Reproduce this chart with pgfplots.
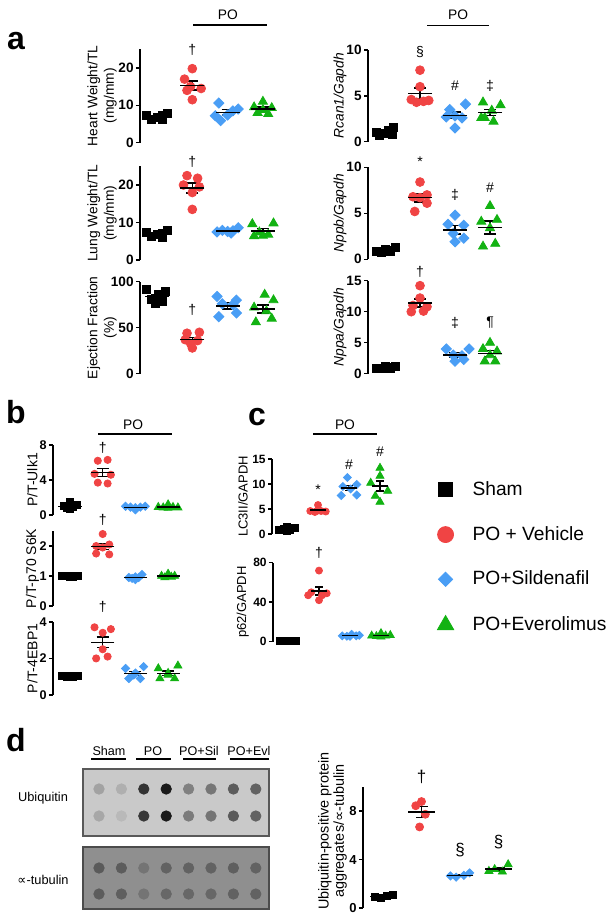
\documentclass[border=0pt]{standalone}
\usepackage{pgfplots}
\pgfplotsset{compat=1.18}
\usepackage{fontspec}
\setmainfont{Liberation Sans}
\newfontfamily\djv{DejaVu Sans}
\definecolor{cR}{RGB}{240,68,68}
\definecolor{cB}{RGB}{74,158,245}
\definecolor{cG}{RGB}{18,178,18}
\newcommand\fs[1]{\fontsize{#1}{#1}\selectfont}

\pgfplotsset{
  dp/.style={clip=false, anchor=south west, axis x line=none, axis y line*=left,
    axis line style={line width=0.75pt}, ymin=0, xtick=\empty,
    tick align=outside, major tick length=2pt, major tick style={line width=0.75pt, black},
    /pgf/number format/assume math mode=true,
    yticklabel style={font=\bfseries\fs{6.8}, inner sep=1pt},
    ylabel style={font=\fontsize{6.9}{8.2}\selectfont, align=center, inner sep=1pt}},
  ylab/.style={ylabel style={at={(axis description cs:#1,0.5)}, anchor=center}},
  sham/.style={only marks, mark=square*, black, mark size=#1},
  veh/.style={only marks, mark=*, cR, mark size=#1},
  sil/.style={only marks, mark=square*, cB, mark size=#1, mark options={rotate=45}},
  evl/.style={only marks, mark=triangle*, cG, mark size=#1},
  mse/.style={only marks, mark=-, black, mark size=#1, mark options={line width=0.7pt},
    error bars/y dir=both, error bars/y explicit,
    error bars/error bar style={line width=0.7pt, black},
    error bars/error mark options={rotate=90, line width=0.7pt, mark size=3pt, black}},
  capsmall/.style={error bars/error mark options={rotate=90, line width=0.7pt, mark size=2pt, black}},
}
\tikzset{sym/.style={font=\fs{7}}}

\begin{document}
\begin{tikzpicture}
\useasboundingbox (0,0) rectangle (308pt,-461.5pt);

% panel letters
\node[font=\bfseries\fs{16}] at (8pt,-20.5pt) {a};
\node[font=\bfseries\fs{16}] at (8pt,-206pt) {b};
\node[font=\bfseries\fs{16}] at (128.5pt,-208.5pt) {c};
\node[font=\bfseries\fs{16}] at (8pt,-370pt) {d};

% ---------- a, left column ----------
\begin{axis}[dp, at={(70pt,-71.35pt)}, x=17.65pt, y=1.87pt, xmin=0.518, xmax=4.5, ymax=25,
  ytick={0,10,20}, ylabel={Heart Weight/TL\\(mg/mm)}, ylab=-0.27]
\addplot[sham=2pt] coordinates {(0.7,7.2) (0.85,6.3) (1.0,6.9) (1.15,6.1) (1.3,7.8) (1.15,7.3)};
\addplot[veh=2.2pt] coordinates {(2.0,19.8) (1.78,17.0) (1.95,15.0) (2.25,14.5) (1.85,14.0) (2.0,11.5)};
\addplot[sil=1.8pt] coordinates {(2.65,7.2) (3.3,9.0) (2.75,10.6) (3.0,7.4) (2.8,5.9) (3.15,8.5)};
\addplot[evl=2.6pt] coordinates {(4.0,11.0) (3.75,9.5) (4.25,9.3) (3.85,8.0) (4.15,7.7) (4.0,8.8)};
\addplot[mse=6pt] coordinates {(1,6.9) +- (0,0.3) (2,15.3) +- (0,1.2) (3,8.1) +- (0,0.7) (4,9.05) +- (0,0.5)};
\node[sym] at (axis cs:2,24.8) {†};
\draw[line width=0.75pt] (axis cs:2.02,31.5) -- (axis cs:4.12,31.5);
\node[font=\fs{6.9}] at (axis cs:3.01,34.1) {PO};
\end{axis}

\begin{axis}[dp, at={(70pt,-130pt)}, x=17.65pt, y=1.875pt, xmin=0.518, xmax=4.5, ymax=25,
  ytick={0,10,20}, ylabel={Lung Weight/TL\\(mg/mm)}, ylab=-0.27]
\addplot[sham=2pt] coordinates {(0.7,7.3) (0.85,6.2) (1.0,6.8) (1.15,6.0) (1.3,7.8) (1.15,7.0)};
\addplot[veh=2.2pt] coordinates {(1.85,22.5) (2.15,21.8) (1.75,20.0) (2.2,19.5) (2.0,18.0) (2.0,13.5)};
\addplot[sil=1.8pt] coordinates {(2.7,7.5) (2.85,7.9) (3.0,7.6) (3.15,7.8) (3.3,8.6) (3.1,7.2)};
\addplot[evl=2.6pt] coordinates {(3.7,9.6) (4.3,9.8) (3.9,7.4) (3.75,6.4) (4.0,6.5) (4.15,6.8)};
\addplot[mse=6pt] coordinates {(1,6.85) +- (0,0.3) (2,19.2) +- (0,1.3) (3,7.77) +- (0,0.2) (4,7.75) +- (0,0.7)};
\node[sym] at (axis cs:2,26.1) {†};
\end{axis}

\begin{axis}[dp, at={(70pt,-186.85pt)}, x=17.65pt, y=0.46pt, xmin=0.518, xmax=4.5, ymax=100,
  ytick={0,50,100}, ylabel={Ejection Fraction\\(\%)}, ylab=-0.27]
\addplot[sham=2pt] coordinates {(0.7,92) (1.25,89) (1.05,86) (0.85,81) (0.95,76) (1.15,79)};
\addplot[veh=2.2pt] coordinates {(1.85,44) (2.2,45) (1.8,37) (2.15,36) (2.0,28) (1.95,33)};
\addplot[sil=1.8pt] coordinates {(2.7,84) (3.25,80) (2.85,76) (3.15,75) (2.75,62) (3.25,66)};
\addplot[evl=2.6pt] coordinates {(4.05,86) (4.3,80) (3.75,72) (4.1,68) (3.8,56) (4.25,60)};
\addplot[mse=6pt] coordinates {(1,83.8) +- (0,2.5) (2,37.2) +- (0,2) (3,73.8) +- (0,3.4) (4,70.3) +- (0,4.5)};
\node[sym] at (axis cs:2,69) {†};
\end{axis}

% ---------- a, right column ----------
\begin{axis}[dp, at={(184pt,-70.85pt)}, x=17.5pt, y=4.585pt, xmin=0.514, xmax=4.5, ymax=10,
  ytick={0,5,10}, ylabel={\itshape Rcan1/Gapdh}, ylab=-0.2]
\addplot[sham=2pt] coordinates {(0.75,1.0) (0.85,0.7) (1.0,0.9) (1.1,1.2) (1.25,1.6) (1.2,0.8)};
\addplot[veh=2.2pt] coordinates {(2.0,7.8) (2.0,6.0) (1.75,4.6) (2.1,4.4) (1.9,4.3) (2.25,4.5)};
\addplot[sil=1.8pt] coordinates {(3.3,4.1) (2.85,3.5) (3.0,2.8) (3.2,2.6) (2.75,2.7) (3.0,1.5)};
\addplot[evl=2.6pt] coordinates {(3.8,4.3) (4.3,4.0) (4.05,3.4) (3.85,2.6) (4.1,2.2) (3.75,2.6)};
\addplot[mse=6pt] coordinates {(1,1.03) +- (0,0.14) (2,5.27) +- (0,0.6) (3,2.87) +- (0,0.35) (4,3.18) +- (0,0.35)};
\node[sym] at (axis cs:2,9.8) {§};
\node[sym] at (axis cs:3,6.07) {\#};
\node[sym] at (axis cs:4,6.07) {‡};
\draw[line width=0.75pt] (axis cs:2.2,12.7) -- (axis cs:3.97,12.7);
\node[font=\fs{6.9}] at (axis cs:3.09,13.8) {PO};
\end{axis}

\begin{axis}[dp, at={(184pt,-129.65pt)}, x=17.5pt, y=4.6pt, xmin=0.514, xmax=4.5, ymax=10,
  ytick={0,5,10}, ylabel={\itshape Nppb/Gapdh}, ylab=-0.2]
\addplot[sham=2pt] coordinates {(0.75,0.9) (0.9,0.8) (1.0,1.1) (1.15,0.9) (1.3,1.3) (1.1,1.0)};
\addplot[veh=2.2pt] coordinates {(2.0,8.4) (2.2,7.0) (1.8,6.8) (2.2,6.1) (1.85,5.2) (2.0,6.7)};
\addplot[sil=1.8pt] coordinates {(3.0,4.8) (2.8,3.8) (3.25,3.7) (2.95,2.8) (3.25,2.3) (3.0,1.9)};
\addplot[evl=2.6pt] coordinates {(4.0,5.8) (3.75,4.1) (4.2,4.3) (4.0,3.4) (3.8,1.4) (4.15,1.7)};
\addplot[mse=6pt] coordinates {(1,1.0) +- (0,0.07) (2,6.7) +- (0,0.45) (3,3.2) +- (0,0.45) (4,3.45) +- (0,0.7)};
\node[sym] at (axis cs:2,10.6) {*};
\node[sym] at (axis cs:3,7.0) {‡};
\node[sym] at (axis cs:4,7.75) {\#};
\end{axis}

\begin{axis}[dp, at={(184pt,-186.85pt)}, x=17.5pt, y=3.1pt, xmin=0.514, xmax=4.5, ymax=15,
  ytick={0,5,10,15}, ylabel={\itshape Nppa/Gapdh}, ylab=-0.2]
\addplot[sham=2pt] coordinates {(0.75,0.9) (0.9,0.8) (1.0,1.1) (1.15,0.9) (1.3,1.2) (1.1,1.0)};
\addplot[veh=2.2pt] coordinates {(2.0,14.2) (2.0,12.2) (1.8,11.0) (2.2,10.8) (1.75,10.0) (2.1,10.1)};
\addplot[sil=1.8pt] coordinates {(2.75,4.0) (3.4,4.0) (2.95,3.0) (3.2,2.9) (3.0,2.0) (3.25,2.3)};
\addplot[evl=2.6pt] coordinates {(4.0,5.0) (3.8,4.0) (4.2,3.6) (4.0,3.0) (3.85,2.0) (4.15,2.0)};
\addplot[mse=6pt] coordinates {(1,1.0) +- (0,0.06) (2,11.38) +- (0,0.65) (3,3.03) +- (0,0.35) (4,3.27) +- (0,0.5)};
\node[sym] at (axis cs:2,16.4) {†};
\node[sym] at (axis cs:3,8.2) {‡};
\node[sym] at (axis cs:4,8.3) {¶};
\end{axis}

% ---------- b ----------
\begin{axis}[dp, at={(26.5pt,-257.5pt)}, x=16.35pt, y=4.375pt, xmin=0.48, xmax=4.4, ymax=8,
  ytick={0,4,8}, ylabel={P/T-Ulk1}, ylabel style={font=\fs{7}}, ylab=-0.16,
  yticklabel style={font=\bfseries\fs{6.3}}]
\addplot[sham=1.75pt] coordinates {(0.8,1.0) (0.9,0.8) (1.0,1.5) (1.1,0.9) (1.2,1.1) (1.0,0.7)};
\addplot[veh=1.8pt] coordinates {(1.85,6.2) (2.15,6.3) (1.75,4.7) (2.25,4.6) (1.85,3.7) (2.15,3.6)};
\addplot[sil=1.45pt] coordinates {(2.7,1.0) (2.85,0.9) (3.0,0.6) (3.15,0.9) (3.3,1.0) (3.0,0.85)};
\addplot[evl=2.3pt] coordinates {(3.7,0.9) (3.85,0.85) (4.0,1.2) (4.15,0.9) (4.3,0.85) (4.0,0.8)};
\addplot[mse=5.8pt] coordinates {(1,1.0) +- (0,0.1) (2,4.85) +- (0,0.45) (3,0.875) +- (0,0.06) (4,0.92) +- (0,0.06)};
\node[sym] at (axis cs:2,7.65) {†};
\draw[line width=0.75pt] (axis cs:1.86,9.26) -- (axis cs:4.12,9.26);
\node[font=\fs{6.9}] at (axis cs:2.93,10.3) {PO};
\end{axis}

\begin{axis}[dp, at={(26.5pt,-303pt)}, x=16.35pt, y=15pt, xmin=0.48, xmax=4.4, ymax=2.5,
  ytick={0,1,2}, ylabel={P/T-p70 S6K}, ylabel style={font=\fs{7}}, ylab=-0.16,
  yticklabel style={font=\bfseries\fs{6.3}}]
\addplot[sham=1.75pt] coordinates {(0.75,1.0) (0.9,1.0) (1.0,1.02) (1.1,0.98) (1.25,1.0) (1.0,0.97)};
\addplot[veh=1.8pt] coordinates {(2.0,2.4) (1.8,2.0) (2.2,2.05) (1.8,1.75) (2.2,1.72) (2.0,1.95)};
\addplot[sil=1.45pt] coordinates {(2.8,0.95) (3.0,0.88) (3.2,1.05) (2.9,0.92) (3.1,0.95) (3.0,0.97)};
\addplot[evl=2.3pt] coordinates {(3.8,1.0) (4.0,1.07) (4.2,1.0) (3.9,0.95) (4.1,0.97) (4.0,1.02)};
\addplot[mse=5.8pt] coordinates {(1,1.0) +- (0,0.01) (2,1.98) +- (0,0.1) (3,0.95) +- (0,0.02) (4,1.0) +- (0,0.02)};
\node[sym] at (axis cs:2,2.87) {†};
\end{axis}

\begin{axis}[dp, at={(26.5pt,-347.5pt)}, x=16.35pt, y=9.15pt, xmin=0.48, xmax=4.4, ymax=4,
  ytick={0,2,4}, ylabel={P/T-4EBP1}, ylabel style={font=\fs{7}}, ylab=-0.16,
  yticklabel style={font=\bfseries\fs{6.3}}]
\addplot[sham=1.75pt] coordinates {(0.75,1.05) (0.9,0.98) (1.0,1.02) (1.1,1.0) (1.25,1.05) (1.0,0.97)};
\addplot[veh=1.8pt] coordinates {(1.75,3.7) (2.25,3.6) (2.0,3.4) (2.0,2.5) (1.8,2.0) (2.15,2.1)};
\addplot[sil=1.45pt] coordinates {(2.7,1.45) (3.25,1.55) (3.0,1.2) (2.8,0.9) (3.15,0.9) (2.95,1.1)};
\addplot[evl=2.3pt] coordinates {(3.7,1.45) (4.3,1.6) (4.0,1.2) (3.75,0.9) (4.2,0.9) (4.0,1.1)};
\addplot[mse=5.8pt] coordinates {(1,1.0) +- (0,0.02) (2,2.88) +- (0,0.3) (3,1.18) +- (0,0.12) (4,1.19) +- (0,0.12)};
\node[sym] at (axis cs:2,4.8) {†};
\end{axis}

% ---------- c ----------
\begin{axis}[dp, at={(136pt,-267pt)}, x=15.5pt, y=2.5pt, xmin=0.516, xmax=4.4, ymax=15,
  ytick={0,5,10,15}, ylabel={LC3II/GAPDH}, ylabel style={font=\fs{6.5}},
  yticklabel style={font=\bfseries\fs{6}},
  legend style={at={(axis cs:5.84,10.6)}, anchor=north west, draw=none, fill=none,
    font=\fs{9.6}, row sep=13.9pt, inner sep=0pt, nodes={inner sep=0pt}},
  legend cell align=left,
  legend image code/.code={\path[draw=none, fill=none] (-4pt,-4pt) rectangle (13.5pt,4pt); \draw[#1] plot coordinates {(0pt,0pt)};}]
\addlegendimage{sham=3.5pt}
\addlegendentry{Sham}
\addlegendimage{veh=4pt}
\addlegendentry{PO + Vehicle}
\addlegendimage{sil=2.5pt}
\addlegendentry{PO+Sildenafil}
\addlegendimage{evl=4.7pt}
\addlegendentry{PO+Everolimus}
\addplot[sham=1.7pt, forget plot] coordinates {(0.75,0.9) (0.9,1.1) (1.0,1.5) (1.1,0.8) (1.25,1.2) (1.0,0.7)};
\addplot[veh=1.75pt, forget plot] coordinates {(2.0,5.8) (1.75,4.6) (2.25,4.5) (1.9,4.4) (2.1,4.6) (2.0,4.7)};
\addplot[sil=1.4pt, forget plot] coordinates {(2.95,11.3) (3.25,9.9) (2.8,9.5) (3.05,9.0) (2.75,7.7) (3.25,7.8)};
\addplot[evl=2.3pt, forget plot] coordinates {(4.0,13.2) (4.0,11.6) (3.7,10.2) (4.25,8.6) (3.85,7.6) (4.0,6.4)};
\addplot[mse=4.2pt, capsmall, forget plot] coordinates {(1,1.03) +- (0,0.12) (2,4.77) +- (0,0.2) (3,9.2) +- (0,0.55) (4,9.6) +- (0,1.0)};
\node[sym] at (axis cs:2,8.8) {*};
\node[sym] at (axis cs:3,13.8) {\#};
\node[sym] at (axis cs:4,16.4) {\#};
\draw[line width=0.75pt] (axis cs:1.84,20) -- (axis cs:3.9,20);
\node[font=\fs{6.9}] at (axis cs:2.87,21.8) {PO};
\end{axis}

\begin{axis}[dp, at={(136.5pt,-320.85pt)}, x=15.5pt, y=0.494pt, xmin=0.516, xmax=4.4, ymax=80,
  ytick={0,40,80}, ylabel={p62/GAPDH}, ylabel style={font=\fs{6.5}},
  yticklabel style={font=\bfseries\fs{6}}]
\addplot[sham=1.7pt] coordinates {(0.75,0.5) (0.9,0.8) (1.0,1.0) (1.1,0.6) (1.25,0.9) (1.0,0.5)};
\addplot[veh=1.75pt] coordinates {(2.0,72) (1.75,50) (2.25,49) (1.65,47) (2.1,47) (2.0,42)};
\addplot[sil=1.4pt] coordinates {(2.75,6) (2.9,5.5) (3.05,7.5) (3.2,6) (3.3,6.5) (3.0,5.5)};
\addplot[evl=2.3pt] coordinates {(3.7,6) (3.85,5.5) (4.0,8.5) (4.15,6) (4.3,6.5) (4.0,5.0)};
\addplot[mse=4.2pt, capsmall] coordinates {(1,0.7) +- (0,0.1) (2,51.2) +- (0,4) (3,6.2) +- (0,0.3) (4,6.25) +- (0,0.5)};
\node[sym] at (axis cs:2,89.8) {†};
\end{axis}

% ---------- d, blot ----------
\filldraw[fill=black!21, draw=black!65, line width=0.75pt] (41.5pt,-384.5pt) rectangle (134.5pt,-418pt);
\filldraw[fill=black!44, draw=black!70, line width=0.75pt] (41.5pt,-423.5pt) rectangle (134.5pt,-454.5pt);
\node[font=\fs{6.4}] at (21.5pt,-399pt) {Ubiquitin};
\node[font=\fs{6.4}] at (21.5pt,-440pt) {{\djv ∝}-tubulin};
\node[font=\fs{6.3}] at (54.5pt,-375.5pt) {Sham};
\node[font=\fs{6.3}] at (76.5pt,-375.5pt) {PO};
\node[font=\fs{6.3}] at (99.5pt,-375.5pt) {PO+Sil};
\node[font=\fs{6.3}] at (124.5pt,-375.5pt) {PO+Evl};
\draw[line width=0.6pt] (45.5pt,-379.5pt) -- (63pt,-379.5pt);
\draw[line width=0.6pt] (68pt,-379.5pt) -- (85.5pt,-379.5pt);
\draw[line width=0.6pt] (91.5pt,-379.5pt) -- (108pt,-379.5pt);
\draw[line width=0.6pt] (115pt,-379.5pt) -- (134.5pt,-379.5pt);

\begin{axis}[at={(38.3pt,-455pt)}, anchor=south west, hide axis, x=11.2pt, y=0.5pt,
  xmin=0, xmax=9, ymin=-910, ymax=-760, clip=false,
  colormap={bw}{gray(0cm)=(0); gray(1cm)=(1)}, point meta min=0, point meta max=1]
\addplot[scatter, only marks, mark=*, mark size=2.6pt, point meta=explicit,
  scatter/use mapped color={draw=mapped color, fill=mapped color}] coordinates {
  (1,-789) [0.63] (2,-789) [0.68] (3,-789) [0.2] (4,-789) [0.1]
  (5,-789) [0.5] (6,-789) [0.46] (7,-789) [0.36] (8,-789) [0.38]
  (1,-816) [0.65] (2,-816) [0.72] (3,-816) [0.22] (4,-816) [0.1]
  (5,-816) [0.48] (6,-816) [0.45] (7,-816) [0.35] (8,-816) [0.38]
  (1,-868) [0.35] (2,-868) [0.36] (3,-868) [0.45] (4,-868) [0.38]
  (5,-868) [0.38] (6,-868) [0.38] (7,-868) [0.37] (8,-868) [0.38]
  (1,-894) [0.36] (2,-894) [0.37] (3,-894) [0.45] (4,-894) [0.4]
  (5,-894) [0.4] (6,-894) [0.4] (7,-894) [0.38] (8,-894) [0.38]};
\end{axis}

% ---------- d, plot ----------
\begin{axis}[dp, at={(181.5pt,-454pt)}, x=19.25pt, y=6.05pt, xmin=0.48, xmax=4.52, ymax=10,
  axis x line*=bottom, ytick={0,4,8}, ylabel={Ubiquitin-positive protein\\aggregates/{\djv ∝}-tubulin},
  ylabel style={font=\fontsize{7.2}{7.6}\selectfont, at={(axis description cs:-0.196,0.636)}, anchor=center},
  yticklabel style={font=\bfseries\fs{6.5}}]
\addplot[sham=1.75pt] coordinates {(0.8,0.9) (0.95,0.8) (1.1,1.0) (1.25,1.1)};
\addplot[veh=2pt] coordinates {(2.0,8.8) (1.85,8.45) (2.1,7.75) (1.95,6.7)};
\addplot[sil=1.45pt] coordinates {(2.75,2.65) (2.9,2.55) (3.1,2.7) (3.25,2.9)};
\addplot[evl=2.3pt] coordinates {(3.75,3.05) (3.9,3.2) (4.1,3.0) (4.25,3.6)};
\addplot[mse=6.7pt] coordinates {(1,0.95) +- (0,0.06) (2,7.93) +- (0,0.45) (3,2.7) +- (0,0.08) (4,3.21) +- (0,0.14)};
\node[font=\fs{8.5}] at (axis cs:2,10.8) {†};
\node[font=\fs{8.5}] at (axis cs:3,4.8) {§};
\node[font=\fs{8.5}] at (axis cs:4,5.45) {§};
\end{axis}
\end{tikzpicture}
\end{document}
